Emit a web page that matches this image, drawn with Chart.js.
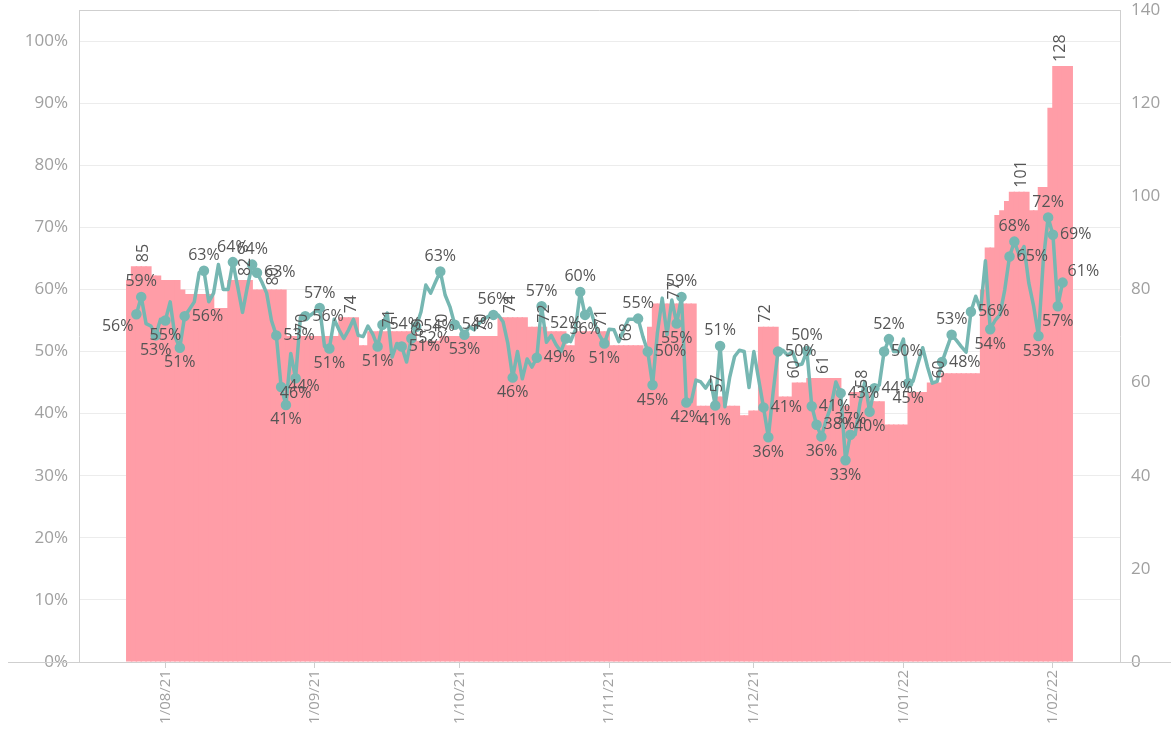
<!DOCTYPE html>
<html>
<head>
<meta charset="utf-8">
<script src="https://cdn.jsdelivr.net/npm/chart.js@4.4.0/dist/chart.umd.min.js"></script>
<style>
  html, body { margin: 0; padding: 0; background: #fff; }
  #wrap { width: 1171px; height: 733px; }
</style>
</head>
<body>
<div id="wrap"><canvas id="chart" width="1171" height="733"></canvas></div>
<script>
// first day of the series, one value per day after it
const startDate = '2021-07-24';

// daily count (right axis, pink bars)
const counts = [
    82, 85, 85, 85, 85, 83, 83, 82, 82, 82,
    82, 80, 79, 79, 79, 79, 79, 79, 76, 76,
    76, 82, 82, 82, 82, 82, 80, 80, 80, 80,
    80, 80, 80, 70, 70, 70, 70, 70, 70, 70,
    70, 70, 70, 70, 74, 74, 74, 74, 68, 68,
    71, 71, 71, 71, 71, 71, 71, 71, 71, 71,
    69, 69, 69, 69, 69, 70, 70, 70, 70, 70,
    70, 70, 70, 70, 70, 70, 70, 74, 74, 74,
    74, 74, 74, 72, 72, 72, 72, 71, 71, 71,
    71, 68, 68, 71, 71, 71, 71, 71, 71, 71,
    68, 68, 68, 68, 68, 68, 68, 66, 72, 77,
    77, 77, 77, 77, 77, 77, 77, 77, 55, 55,
    55, 55, 57, 57, 55, 55, 55, 53, 53, 54,
    54, 72, 72, 72, 72, 57, 57, 57, 60, 60,
    60, 61, 61, 61, 61, 61, 61, 61, 55, 55,
    58, 58, 58, 58, 56, 56, 56, 51, 51, 51,
    51, 51, 58, 58, 58, 58, 60, 60, 60, 62,
    62, 62, 62, 62, 62, 62, 62, 80, 89, 89,
    96, 97, 99, 101, 101, 101, 101, 97, 97, 102,
    102, 119, 128, 128, 128, 128
];

// daily rate in % (left axis, teal line)
const rates = [
    null, null, 56.0, 58.8, 54.5, 54.1, 52.6, 55.2, 55.0, 58.0,
    52.4, 50.6, 55.7, 56.8, 58.0, 62.7, 63.0, 58.0, 59.4, 64.0,
    60.0, 60.0, 64.4, 60.4, 56.3, 60.4, 64.0, 62.7, 61.2, 59.4,
    55.0, 52.6, 44.3, 41.4, 49.7, 45.7, 55.5, 55.7, 55.8, 56.4,
    57.0, 50.8, 50.5, 55.2, 53.5, 52.1, 53.5, 55.2, 52.6, 52.4,
    54.1, 52.8, 50.8, 54.3, 56.2, 49.1, 51.3, 50.8, 48.3, 52.1,
    54.0, 56.4, 60.7, 59.4, 61.2, 62.9, 59.1, 57.2, 54.3, 54.0,
    52.7, 54.0, 53.5, 54.5, 55.2, 55.7, 55.9, 55.9, 54.8, 51.3,
    45.8, 50.0, 45.6, 48.8, 47.5, 49.0, 57.3, 51.5, 52.6, 51.1,
    50.0, 52.1, 51.6, 53.5, 59.6, 55.9, 57.0, 54.5, 52.6, 51.3,
    53.6, 53.5, 51.6, 53.5, 55.2, 55.2, 55.3, 52.4, 50.0, 44.6,
    53.0, 58.6, 52.7, 58.3, 54.5, 58.8, 41.8, 41.9, 45.4, 45.1,
    44.1, 45.4, 41.3, 50.9, 41.1, 45.9, 49.2, 50.2, 50.0, 44.2,
    50.0, 45.5, 41.0, 36.2, 43.5, 50.0, 50.2, 49.4, 50.0, 47.8,
    48.0, 50.1, 41.2, 38.2, 36.3, 39.0, 41.2, 45.1, 43.3, 32.5,
    36.6, 36.6, 41.7, 45.1, 40.3, 44.1, 44.6, 50.0, 52.0, 50.0,
    50.0, 52.0, 44.9, 45.2, 48.0, 50.6, 47.5, 44.9, 45.2, 48.3,
    50.5, 52.7, 51.8, 50.8, 49.9, 56.4, 58.9, 56.7, 64.6, 53.6,
    55.0, 55.9, 59.9, 65.3, 67.7, 65.5, 66.9, 61.0, 57.3, 52.5,
    64.7, 71.6, 68.8, 57.3, 61.1, null
];

// days that carry a text label in the picture
const rateLabelDays = [2, 3, 6, 8, 11, 12, 16, 22, 26, 27, 31, 32, 33, 35, 37, 40, 42,
    52, 53, 57, 59, 60, 65, 68, 70, 76, 80, 85, 86, 91, 94, 95, 99, 106, 108, 109,
    114, 115, 116, 122, 123, 132, 133, 135, 141, 142, 143, 144, 148, 149, 150, 154,
    155, 157, 158, 162, 169, 171, 175, 179, 183, 184, 189, 191, 192, 193, 194];
const countLabelDays = [3, 24, 30, 36, 46, 54, 60, 65, 73, 79, 86, 98, 103, 113, 122,
    132, 138, 144, 152, 168, 185, 193];

// x axis tick labels (d/mm/yy)
const dateTicks = ['1/08/21', '1/09/21', '1/10/21', '1/11/21', '1/12/21', '1/01/22', '1/02/22'];

const FONT = '"Open Sans", "DejaVu Sans", sans-serif';
const t0 = Date.parse(startDate + 'T00:00:00Z');

function dayOf(label) {
    const [d, m, y] = label.split('/').map(Number);
    return Math.round((Date.UTC(2000 + y, m - 1, d) - t0) / 86400000);
}
const tickText = {};
dateTicks.forEach(t => { tickText[dayOf(t)] = t; });

// frame lines: top edge and the long bottom baseline
const framePlugin = {
    id: 'frame',
    afterDraw(chart) {
        const { ctx, chartArea } = chart;
        ctx.save();
        ctx.strokeStyle = '#cfcfcf';
        ctx.lineWidth = 1;
        ctx.beginPath();
        ctx.moveTo(chartArea.left, chartArea.top + 0.5);
        ctx.lineTo(chartArea.right, chartArea.top + 0.5);
        ctx.moveTo(8, chartArea.bottom + 0.5);
        ctx.lineTo(chart.width, chartArea.bottom + 0.5);
        ctx.stroke();
        ctx.restore();
    }
};

// mark labels: vertical counts on bars, percentages next to line points
const labelPlugin = {
    id: 'markLabels',
    afterDatasetsDraw(chart) {
        const ctx = chart.ctx;
        const xs = chart.scales.x, yl = chart.scales.y, yr = chart.scales.y1;
        ctx.save();
        ctx.font = '16px ' + FONT;
        ctx.fillStyle = '#555';

        countLabelDays.forEach(i => {
            const px = xs.getPixelForValue(i + 0.5);
            const py = yr.getPixelForValue(counts[i]);
            ctx.save();
            ctx.translate(px, py - 4);
            ctx.rotate(-Math.PI / 2);
            ctx.textAlign = 'left';
            ctx.textBaseline = 'middle';
            ctx.fillText(String(counts[i]), 0, 0);
            ctx.restore();
        });

        rateLabelDays.forEach(i => {
            const v = rates[i];
            const px = xs.getPixelForValue(i);
            const py = yl.getPixelForValue(v);
            const prev = rates[i - 1], next = rates[i + 1];
            const text = Math.round(v) + '%';
            if (prev == null) {
                ctx.textAlign = 'right'; ctx.textBaseline = 'top';
                ctx.fillText(text, px - 3, py + 4);
            } else if (next == null) {
                ctx.textAlign = 'left'; ctx.textBaseline = 'bottom';
                ctx.fillText(text, px + 5, py - 3);
            } else if (v >= prev && v >= next) {
                ctx.textAlign = 'center'; ctx.textBaseline = 'bottom';
                ctx.fillText(text, px, py - 7);
            } else if (v <= prev && v <= next) {
                ctx.textAlign = 'center'; ctx.textBaseline = 'top';
                ctx.fillText(text, px, py + 7);
            } else {
                ctx.textAlign = 'left'; ctx.textBaseline = 'middle';
                ctx.fillText(text, px + 7, py);
            }
        });
        ctx.restore();
    }
};

const lineData = [];
rates.forEach((v, i) => { if (v != null) lineData.push({ x: i, y: v }); });
const barData = counts.map((v, i) => ({ x: i + 0.5, y: v }));

function noEdgePad(s) {
    s.paddingTop = 0;
    s.paddingBottom = 0;
}

new Chart(document.getElementById('chart'), {
    data: {
        datasets: [
            {
                type: 'line',
                label: 'rate',
                data: lineData,
                yAxisID: 'y',
                borderColor: '#76B7B2',
                backgroundColor: '#76B7B2',
                borderWidth: 3.5,
                borderJoinStyle: 'round',
                borderCapStyle: 'round',
                tension: 0,
                pointRadius: c => rateLabelDays.includes(c.raw.x) ? 3.5 : 0,
                pointHoverRadius: 0,
                order: 1
            },
            {
                type: 'bar',
                label: 'count',
                data: barData,
                yAxisID: 'y1',
                backgroundColor: '#FF9DA7',
                borderWidth: 0,
                barPercentage: 1.3,
                categoryPercentage: 1,
                order: 2
            }
        ]
    },
    options: {
        responsive: false,
        animation: false,
        devicePixelRatio: 1,
        layout: { padding: { top: 10, left: 0, right: 0, bottom: 0 } },
        plugins: { legend: { display: false }, tooltip: { enabled: false } },
        scales: {
            x: {
                type: 'linear',
                min: -9.9,
                max: 205.9,
                offset: false,
                afterBuildTicks: s => { s.ticks = Object.keys(tickText).map(k => ({ value: Number(k) })); },
                afterFit: s => { s.height = 71; s.paddingLeft = 0; s.paddingRight = 0; },
                border: { display: false },
                grid: { offset: false, drawOnChartArea: false, drawTicks: true, tickLength: 6, color: '#cfcfcf' },
                ticks: {
                    autoSkip: false,
                    minRotation: 90,
                    maxRotation: 90,
                    padding: 2,
                    color: '#a0a0a0',
                    font: { family: FONT, size: 15 },
                    callback: v => tickText[v] || ''
                }
            },
            y: {
                position: 'left',
                min: 0,
                max: 105,
                afterBuildTicks: s => { s.ticks = s.ticks.filter(t => t.value <= 100); },
                afterFit: s => { s.width = 79; noEdgePad(s); },
                border: { display: true, color: '#cfcfcf' },
                grid: { color: '#ececec', drawTicks: false },
                ticks: {
                    stepSize: 10,
                    padding: 11,
                    color: '#a0a0a0',
                    font: { family: FONT, size: 17 },
                    callback: v => v + '%'
                }
            },
            y1: {
                position: 'right',
                min: 0,
                max: 140,
                afterFit: s => { s.width = 51; noEdgePad(s); },
                border: { display: true, color: '#cfcfcf' },
                grid: { drawOnChartArea: false, drawTicks: false },
                ticks: {
                    stepSize: 20,
                    padding: 11,
                    color: '#a0a0a0',
                    font: { family: FONT, size: 17 }
                }
            }
        }
    },
    plugins: [framePlugin, labelPlugin]
});
</script>
</body>
</html>
